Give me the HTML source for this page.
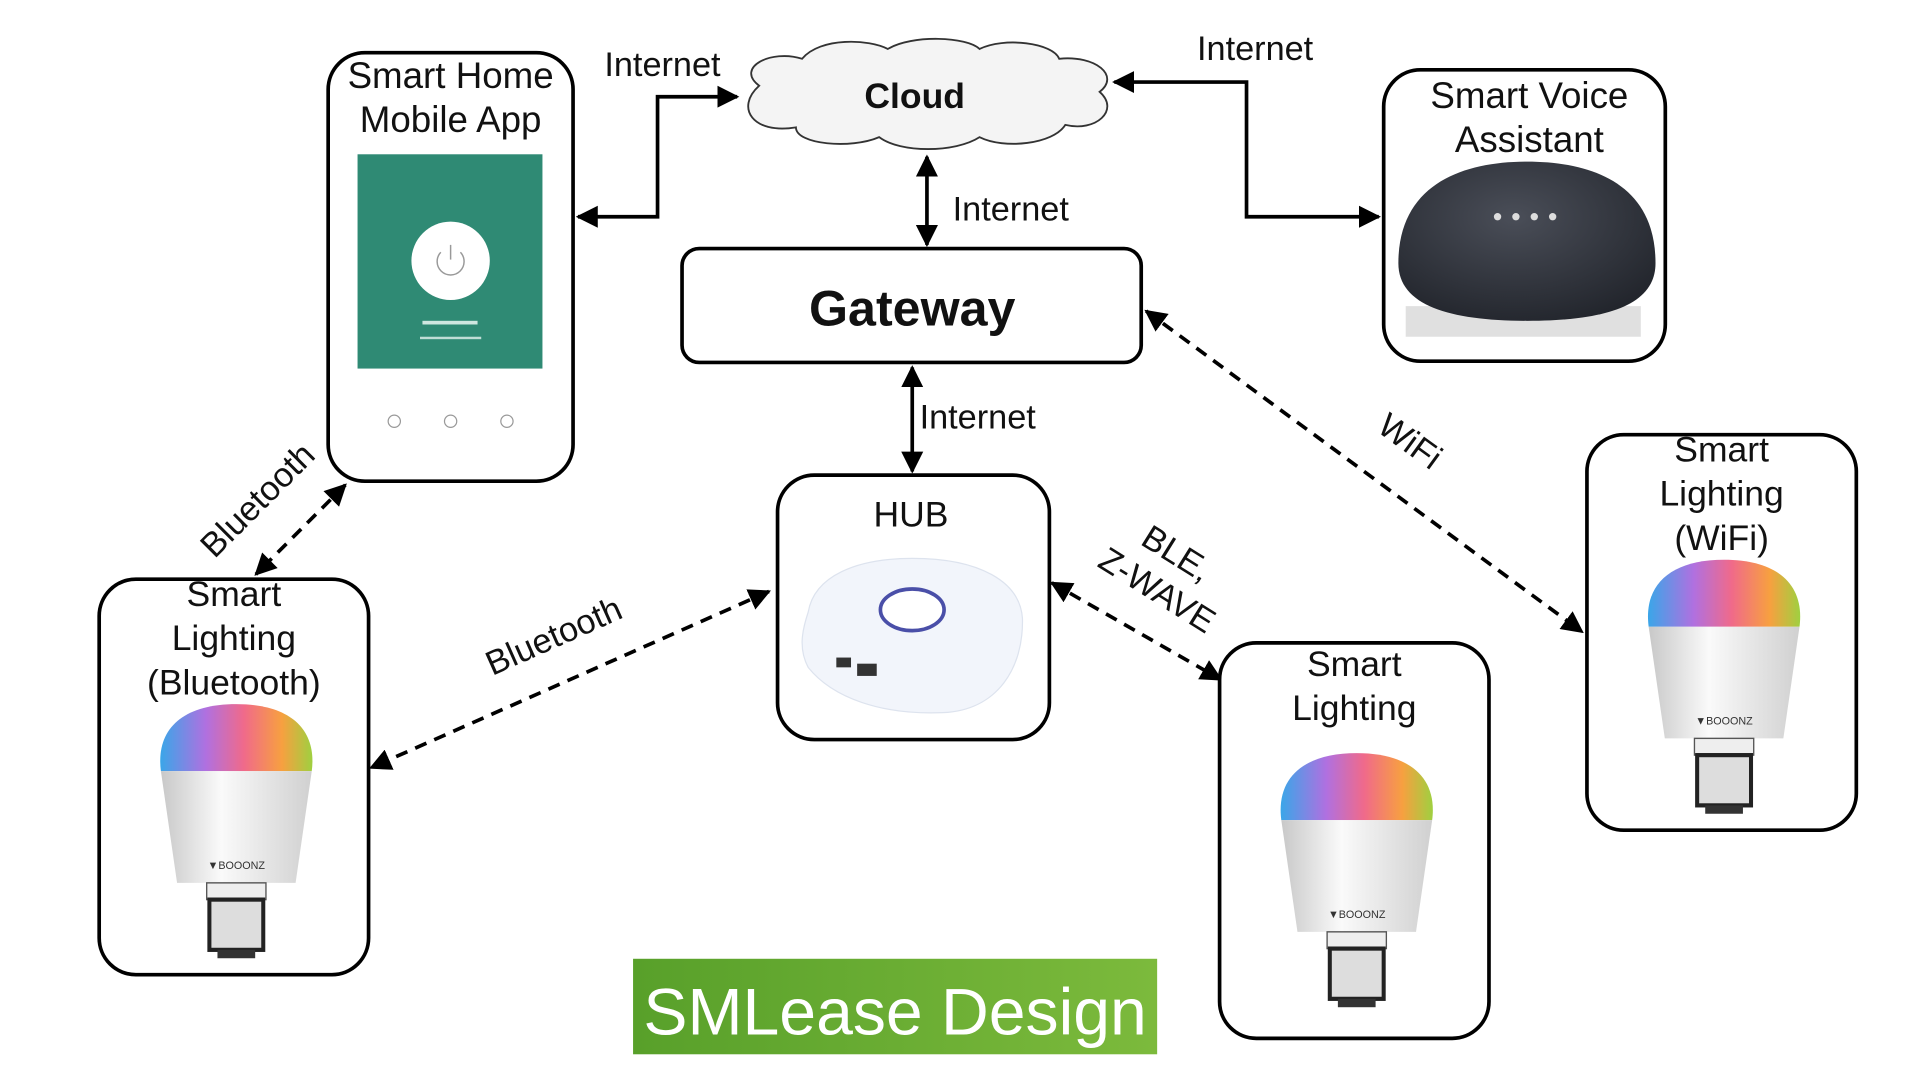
<!DOCTYPE html>
<html><head><meta charset="utf-8"><style>
html,body{margin:0;padding:0;background:#fff;}
svg{display:block;}
text{font-family:"Liberation Sans",Arial,sans-serif;fill:#111;}
</style></head><body>
<svg width="1920" height="1080" viewBox="0 0 1568 882" xmlns="http://www.w3.org/2000/svg">
<defs>
<marker id="ar" viewBox="0 0 10 10" refX="9" refY="5" markerWidth="6" markerHeight="6" orient="auto-start-reverse"><path d="M0,0 L10,5 L0,10 z" fill="#000"/></marker>
<linearGradient id="rb" x1="0" y1="0" x2="1" y2="0">
<stop offset="0" stop-color="#3aa6e8"/><stop offset="0.3" stop-color="#b070e0"/><stop offset="0.55" stop-color="#f06a8a"/><stop offset="0.8" stop-color="#f7a040"/><stop offset="1" stop-color="#9fd040"/></linearGradient>
<linearGradient id="bd" x1="0" y1="0" x2="1" y2="0"><stop offset="0" stop-color="#c8c8c8"/><stop offset="0.4" stop-color="#fafafa"/><stop offset="1" stop-color="#d0d0d0"/></linearGradient>
<radialGradient id="dome" cx="0.45" cy="0.35" r="0.7"><stop offset="0" stop-color="#4a4e58"/><stop offset="1" stop-color="#22252c"/></radialGradient>
<linearGradient id="gr" x1="0" y1="0" x2="1" y2="0"><stop offset="0" stop-color="#58a02a"/><stop offset="1" stop-color="#7cba3c"/></linearGradient>
<g id="bulb">
<path d="M-56,20 C-60,-10 -40,-28 0,-28 C40,-28 60,-10 56,20 Z" fill="url(#rb)"/>
<path d="M-56,20 L56,20 L44,100 L-44,100 Z" fill="url(#bd)"/>
<text x="0" y="90" font-size="8" text-anchor="middle" style="fill:#333">▼BOOONZ</text>
<rect x="-22" y="100" width="44" height="12" fill="#eee" stroke="#555"/>
<rect x="-20" y="112" width="40" height="36" fill="#ddd" stroke="#222" stroke-width="3"/>
<rect x="-14" y="148" width="28" height="6" fill="#333"/>
</g>
</defs>

<g stroke="#000" stroke-width="3" fill="none">
<polyline points="472,177 537,177 537,79 602,79" marker-start="url(#ar)" marker-end="url(#ar)"/>
<polyline points="910,67 1018,67 1018,177 1126,177" marker-start="url(#ar)" marker-end="url(#ar)"/>
<line x1="757" y1="128" x2="757" y2="200" marker-start="url(#ar)" marker-end="url(#ar)"/>
<line x1="745" y1="300" x2="745" y2="385" marker-start="url(#ar)" marker-end="url(#ar)"/>
</g>
<g stroke="#000" stroke-width="3" fill="none" stroke-dasharray="10,7">
<line x1="282" y1="396" x2="209" y2="469" marker-start="url(#ar)" marker-end="url(#ar)"/>
<line x1="628" y1="483" x2="303" y2="627" marker-start="url(#ar)" marker-end="url(#ar)"/>
<line x1="859" y1="476" x2="997" y2="555" marker-start="url(#ar)" marker-end="url(#ar)"/>
<line x1="936" y1="254" x2="1292" y2="516" marker-start="url(#ar)" marker-end="url(#ar)"/>
</g>

<g font-size="28">
<text x="541" y="62" text-anchor="middle">Internet</text>
<text x="1025" y="49" text-anchor="middle">Internet</text>
<text x="778" y="180">Internet</text>
<text x="751" y="350">Internet</text>
<text transform="translate(217,415) rotate(-45)" text-anchor="middle">Bluetooth</text>
<text transform="translate(456,528) rotate(-24)" text-anchor="middle">Bluetooth</text>
<text transform="translate(956,460) rotate(32)" text-anchor="middle">BLE,</text>
<text transform="translate(940,490) rotate(32)" text-anchor="middle">Z-WAVE</text>
<text transform="translate(1146,368) rotate(36)" text-anchor="middle">WiFi</text>
</g>

<path d="M620,70 C600,55 630,40 655,48 C670,30 710,32 725,40 C745,28 790,30 800,40 C820,30 860,35 865,48 C895,45 915,62 898,75 C915,90 895,108 870,102 C860,118 820,122 800,112 C780,125 735,125 718,112 C695,122 650,118 650,104 C615,110 600,88 620,70 Z" fill="#f4f4f4" stroke="#333" stroke-width="1.5"/>
<text x="747" y="88" font-size="29" font-weight="bold" text-anchor="middle">Cloud</text>

<rect x="557" y="203" width="375" height="93" rx="14" fill="#fff" stroke="#000" stroke-width="3"/>
<text x="745" y="266" font-size="41" font-weight="bold" text-anchor="middle">Gateway</text>

<rect x="268" y="43" width="200" height="350" rx="30" fill="#fff" stroke="#000" stroke-width="3"/>
<text x="368" y="72" font-size="30" text-anchor="middle">Smart Home</text>
<text x="368" y="108" font-size="30" text-anchor="middle">Mobile App</text>
<rect x="292" y="126" width="151" height="175" fill="#2f8a74"/>
<circle cx="368" cy="213" r="32" fill="#fff"/>
<path d="M360,206 A11,11 0 1 0 376,206" stroke="#999" stroke-width="1.2" fill="none"/>
<line x1="368" y1="200" x2="368" y2="212" stroke="#999" stroke-width="1.2"/>
<rect x="345" y="262" width="45" height="3" fill="#cfe7e0"/>
<rect x="343" y="275" width="50" height="2" fill="#bfddd5"/>
<g fill="none" stroke="#999" stroke-width="1"><circle cx="322" cy="344" r="5"/><circle cx="368" cy="344" r="5"/><circle cx="414" cy="344" r="5"/></g>

<rect x="1130" y="57" width="230" height="238" rx="30" fill="#fff" stroke="#000" stroke-width="3"/>
<text x="1249" y="88" font-size="30" text-anchor="middle">Smart Voice</text>
<text x="1249" y="124" font-size="30" text-anchor="middle">Assistant</text>
<path d="M1148,275 L1340,275 L1340,250 L1148,250 Z" fill="#e0e0e0"/>
<path d="M1142,215 C1142,150 1195,132 1247,132 C1300,132 1352,150 1352,215 C1352,250 1310,262 1247,262 C1185,262 1142,250 1142,215 Z" fill="url(#dome)"/>
<g fill="#ddd"><circle cx="1223" cy="177" r="3"/><circle cx="1238" cy="177" r="3"/><circle cx="1253" cy="177" r="3"/><circle cx="1268" cy="177" r="3"/></g>

<rect x="635" y="388" width="222" height="216" rx="30" fill="#fff" stroke="#000" stroke-width="3"/>
<text x="744" y="430" font-size="29" text-anchor="middle">HUB</text>
<path d="M660,500 C665,470 700,456 745,456 C800,456 833,475 835,505 C836,545 815,580 770,582 C720,584 680,570 660,545 C652,530 655,515 660,500 Z" fill="#f2f5fb" stroke="#dde3ee"/>
<ellipse cx="745" cy="498" rx="26" ry="17" fill="#fff" stroke="#4a4fa8" stroke-width="3"/>
<rect x="683" y="537" width="12" height="8" fill="#333"/><rect x="700" y="542" width="16" height="10" fill="#333"/>

<rect x="81" y="473" width="220" height="323" rx="30" fill="#fff" stroke="#000" stroke-width="3"/>
<text x="191" y="495" font-size="29" text-anchor="middle">Smart</text>
<text x="191" y="531" font-size="29" text-anchor="middle">Lighting</text>
<text x="191" y="567" font-size="29" text-anchor="middle">(Bluetooth)</text>
<use href="#bulb" transform="translate(193,607) scale(1.1,1.14)"/>

<rect x="996" y="525" width="220" height="323" rx="30" fill="#fff" stroke="#000" stroke-width="3"/>
<text x="1106" y="552" font-size="29" text-anchor="middle">Smart</text>
<text x="1106" y="588" font-size="29" text-anchor="middle">Lighting</text>
<use href="#bulb" transform="translate(1108,647) scale(1.1,1.14)"/>

<rect x="1296" y="355" width="220" height="323" rx="30" fill="#fff" stroke="#000" stroke-width="3"/>
<text x="1406" y="377" font-size="29" text-anchor="middle">Smart</text>
<text x="1406" y="413" font-size="29" text-anchor="middle">Lighting</text>
<text x="1406" y="449" font-size="29" text-anchor="middle">(WiFi)</text>
<use href="#bulb" transform="translate(1408,489) scale(1.1,1.14)"/>

<rect x="517" y="783" width="428" height="78" fill="url(#gr)"/>
<text x="731" y="845" font-size="54" text-anchor="middle" style="fill:#fff">SMLease Design</text>
</svg>
</body></html>
